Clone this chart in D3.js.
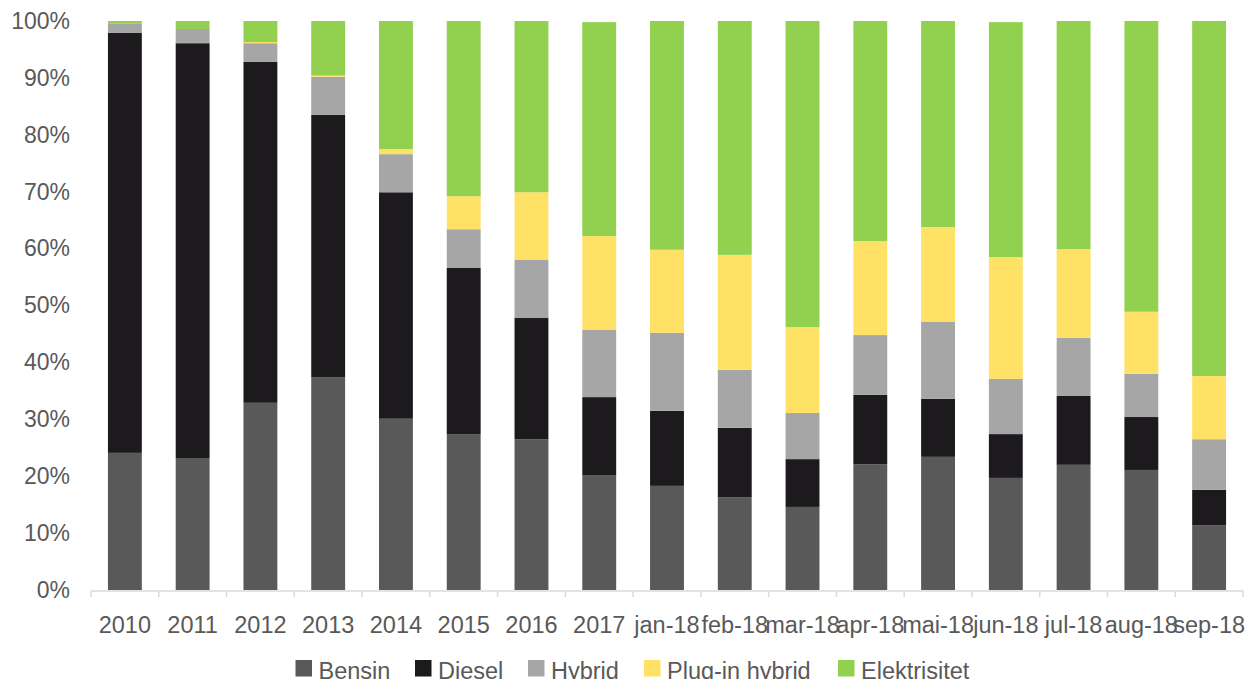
<!DOCTYPE html>
<html>
<head>
<meta charset="utf-8">
<script src="https://cdn.jsdelivr.net/npm/d3@7"></script>
<style>
  body { margin: 0; background: #fff; }
  text { font-family: "Liberation Sans", Arial, sans-serif; fill: #595959; }
</style>
</head>
<body>
<div id="chart"></div>
<script>
// categories and share of new cars per fuel type (percent)
const categories = ["2010","2011","2012","2013","2014","2015","2016","2017","jan-18","feb-18","mar-18","apr-18","mai-18","jun-18","jul-18","aug-18","sep-18"];
const bensin =       [24.1, 23.2, 32.9, 37.4, 30.1, 27.4, 26.5, 20.2, 18.3, 16.3, 14.6, 22.1, 23.4, 19.7, 22.0, 21.1, 11.4];
const diesel =       [73.8, 72.9, 59.9, 46.1, 39.8, 29.2, 21.3, 13.7, 13.2, 12.2,  8.4, 12.2, 10.2,  7.7, 12.1,  9.3,  6.2];
const hybrid =       [ 1.7,  2.5,  3.3,  6.7,  6.7,  6.8, 10.2, 11.8, 13.7, 10.2,  8.1, 10.5, 13.5,  9.7, 10.2,  7.6,  8.9];
const pluginHybrid = [ 0.0,  0.0,  0.2,  0.2,  0.9,  5.8, 11.9, 16.5, 14.6, 20.2, 15.1, 16.5, 16.7, 21.4, 15.6, 10.9, 11.1];
const elektrisitet = [ 0.4,  1.4,  3.7,  9.6, 22.5, 30.8, 30.1, 37.6, 40.2, 41.1, 53.8, 38.7, 36.2, 41.3, 40.1, 51.1, 62.4];
const seriesNames = ["Bensin", "Diesel", "Hybrid", "Plug-in hybrid", "Elektrisitet"];
const yTicks = [0, 10, 20, 30, 40, 50, 60, 70, 80, 90, 100];

const colors = ["#595959", "#1c1a1d", "#a6a6a6", "#ffe166", "#92d050"];

const W = 1247, H = 679;
const margin = {top: 21, right: 4, bottom: 89, left: 91};
const width = W - margin.left - margin.right,
      height = H - margin.top - margin.bottom;

const svg = d3.select("#chart").append("svg")
  .attr("width", W).attr("height", H);
const g = svg.append("g")
  .attr("transform", `translate(${margin.left},${margin.top})`);

// table for the stack
const rows = categories.map((c, i) => ({
  cat: c,
  "Bensin": bensin[i],
  "Diesel": diesel[i],
  "Hybrid": hybrid[i],
  "Plug-in hybrid": pluginHybrid[i],
  "Elektrisitet": elektrisitet[i]
}));
const stacked = d3.stack().keys(seriesNames)(rows);

const x = d3.scaleBand().domain(categories).range([0, width]).paddingInner(0.5).paddingOuter(0.25);
const y = d3.scaleLinear().domain([0, 100]).range([height, 0]);
const color = d3.scaleOrdinal().domain(seriesNames).range(colors);

// bars
g.selectAll("g.layer")
  .data(stacked)
  .join("g")
  .attr("class", "layer")
  .attr("fill", d => color(d.key))
  .selectAll("rect")
  .data(d => d)
  .join("rect")
  .attr("x", d => x(d.data.cat))
  .attr("width", x.bandwidth())
  .attr("y", d => y(d[1]))
  .attr("height", d => y(d[0]) - y(d[1]));

// y axis labels (no line)
const yAxis = g.append("g")
  .call(d3.axisLeft(y).tickValues(yTicks).tickFormat(d => d + "%").tickSize(0).tickPadding(21));
yAxis.select(".domain").remove();
yAxis.selectAll("text").style("font-size", "23px").attr("fill", "#595959");

// x axis line with ticks at band edges
const step = x.step();
const edges = d3.range(categories.length + 1).map(i => i * step);
const xAxisG = g.append("g").attr("transform", `translate(0,${height + 1})`);
xAxisG.append("line")
  .attr("x1", 0).attr("x2", width)
  .attr("stroke", "#d9d9e0").attr("stroke-width", 1.5);
xAxisG.selectAll("line.tick")
  .data(edges)
  .join("line")
  .attr("class", "tick")
  .attr("x1", d => d).attr("x2", d => d)
  .attr("y1", 0).attr("y2", 6)
  .attr("stroke", "#d9d9e0").attr("stroke-width", 1.5);
xAxisG.selectAll("text")
  .data(categories)
  .join("text")
  .attr("x", d => x(d) + x.bandwidth() / 2)
  .attr("y", 42)
  .attr("text-anchor", "middle")
  .style("font-size", "23.5px")
  .text(d => d);

// legend
const legendX = [295.5, 415, 528, 644, 838];
const legend = svg.append("g").attr("transform", "translate(0,660)");
const items = legend.selectAll("g")
  .data(seriesNames)
  .join("g")
  .attr("transform", (d, i) => `translate(${legendX[i]},0)`);
items.append("rect")
  .attr("width", 16.5).attr("height", 16.5)
  .attr("fill", d => color(d));
items.append("text")
  .attr("x", 23).attr("y", 18.5)
  .style("font-size", "23.5px")
  .text(d => d);
</script>
</body>
</html>
